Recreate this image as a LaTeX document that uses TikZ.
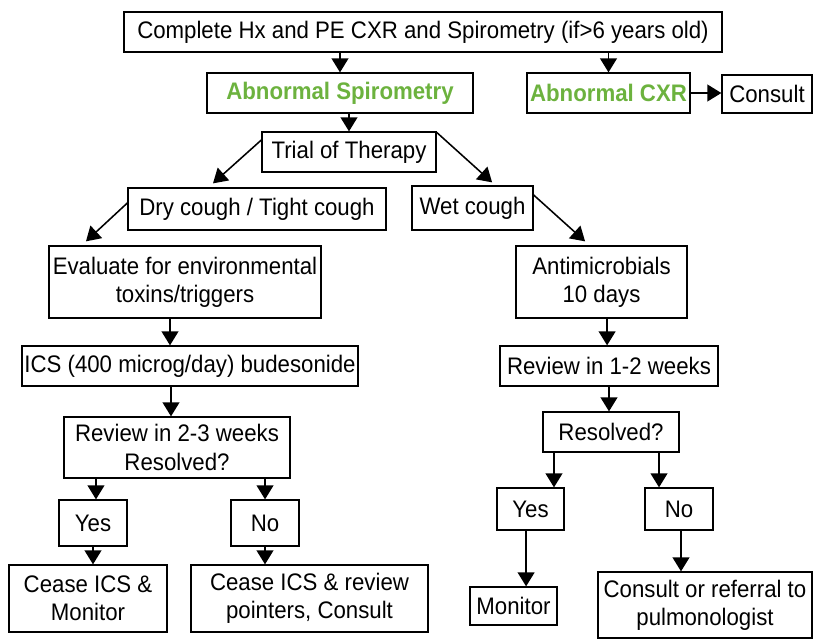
\documentclass[tikz,border=0pt]{standalone}
\usepackage{fontspec}
\setmainfont{Liberation Sans}[FakeStretch=0.93]
\usetikzlibrary{arrows.meta, positioning}
\definecolor{abngreen}{RGB}{108,178,62}

\tikzset{
  box/.style={draw, line width=0.9pt, inner sep=0pt, align=center, font=\fontsize{17}{20}\selectfont},
  abn/.style={box, text=abngreen, font=\fontsize{17}{20}\selectfont\bfseries},
  arr/.style={line width=1.1pt, -{Triangle[length=10pt,width=12pt]}}
}

\begin{document}
\begin{tikzpicture}[x=0.025cm, y=-0.025cm]
\useasboundingbox (0,0) rectangle (815,640);

% top rows
\node[box, minimum width=14.95cm, minimum height=1cm] (hx) at (423,32) {Complete Hx and PE CXR and Spirometry (if>6 years old)};
\node[abn, minimum width=6.65cm, minimum height=1cm] (abnsp) at (340,93) {Abnormal Spirometry};
\node[abn, minimum width=4.075cm, minimum height=1cm] (abncxr) at (608.5,93) {Abnormal CXR};
\node[box, minimum width=2.25cm, minimum height=0.95cm] (consult) at (767,94) {Consult};
\node[box, minimum width=4.35cm, minimum height=1cm] (trial) at (349,152) {Trial of Therapy};
\node[box, minimum width=6.45cm, minimum height=1.05cm] (dry) at (257,209) {Dry cough / Tight cough};
\node[box, minimum width=3.025cm, minimum height=1.1cm] (wet) at (472.5,208) {Wet cough};

% dry cough branch
\node[box, minimum width=6.8cm, minimum height=1.8cm] (eval) at (185,282) {Evaluate for environmental\\toxins/triggers};
\node[box, minimum width=8.4cm, minimum height=1cm] (ics) at (190,366) {ICS (400 microg/day) budesonide};
\node[box, minimum width=5.65cm, minimum height=1.525cm] (rev23) at (177,447.5) {Review in 2-3 weeks\\Resolved?};
\node[box, minimum width=1.7cm, minimum height=1.15cm] (yesl) at (93,523) {Yes};
\node[box, minimum width=1.7cm, minimum height=1.15cm] (nol) at (265,523) {No};
\node[box, minimum width=3.95cm, minimum height=1.675cm] (ceasel) at (88,598.5) {Cease ICS \&\\Monitor};
\node[box, minimum width=5.925cm, minimum height=1.675cm] (ceaser) at (309.5,598.5) {Cease ICS \& review\\pointers, Consult};

% wet cough branch
\node[box, minimum width=4.275cm, minimum height=1.8cm] (anti) at (601.5,282) {Antimicrobials\\10 days};
\node[box, minimum width=5.45cm, minimum height=1cm] (rev12) at (609,366) {Review in 1-2 weeks};
\node[box, minimum width=3.4cm, minimum height=1cm] (res) at (611,432) {Resolved?};
\node[box, minimum width=1.675cm, minimum height=1.05cm] (yesr) at (530.5,509) {Yes};
\node[box, minimum width=1.7cm, minimum height=1.05cm] (nor) at (679,509) {No};
\node[box, minimum width=2.175cm, minimum height=0.95cm] (monitor) at (513.5,606) {Monitor};
\node[box, minimum width=5.35cm, minimum height=1.65cm] (refer) at (705,605) {Consult or referral to\\pulmonologist};

% arrows
\draw[arr] (abnsp.north |- hx.south) -- (abnsp.north);
\draw[arr] (abncxr.north |- hx.south) -- (abncxr.north);
\draw[arr] (abncxr.east) -- (abncxr.east -| consult.west);
\draw[arr] (trial.north |- abnsp.south) -- (trial.north);
\draw[arr] ([yshift=0.3cm]trial.west) -- ([xshift=-1.1cm,yshift=0.1cm]dry.north);
\draw[arr] ([yshift=-0.025cm]trial.north east) -- ([xshift=0.49cm,yshift=0.075cm]wet.north);
\draw[arr] ([yshift=0.15cm]dry.west) -- ([xshift=-2.475cm,yshift=0.1cm]eval.north);
\draw[arr] ([yshift=0.325cm]wet.east) -- ([xshift=-0.41cm,yshift=0.1cm]anti.north);

\draw[arr] ([xshift=-0.375cm]eval.south) -- ([xshift=-0.375cm]eval.south |- ics.north);
\draw[arr] ([xshift=-0.475cm]ics.south) -- ([xshift=-0.475cm]ics.south |- rev23.north);
\draw[arr] ([xshift=-2.025cm]rev23.south) -- ([xshift=-2.025cm]rev23.south |- yesl.north);
\draw[arr] ([xshift=2.2cm]rev23.south) -- ([xshift=2.2cm]rev23.south |- nol.north);
\draw[arr] (yesl.south) -- (yesl.south |- ceasel.north);
\draw[arr] (nol.south) -- (nol.south |- ceaser.north);

\draw[arr] ([xshift=0.14cm]anti.south) -- ([xshift=0.14cm]anti.south |- rev12.north);
\draw[arr] (rev12.south) -- (rev12.south |- res.north);
\draw[arr] ([xshift=-1.425cm]res.south) -- ([xshift=-1.425cm]res.south |- yesr.north);
\draw[arr] ([xshift=1.2cm]res.south) -- ([xshift=1.2cm]res.south |- nor.north);
\draw[arr] ([xshift=-0.11cm]yesr.south) -- ([xshift=-0.11cm]yesr.south |- monitor.north);
\draw[arr] ([xshift=0.05cm]nor.south) -- ([xshift=0.05cm]nor.south |- refer.north);

\end{tikzpicture}
\end{document}
